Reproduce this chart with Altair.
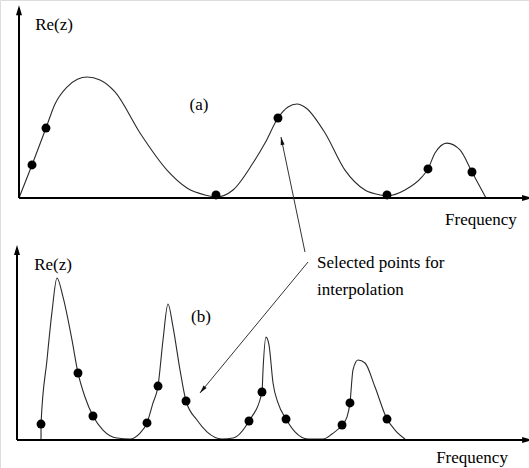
import altair as alt
import pandas as pd

# ---- panel (a): broad resonances -------------------------------------------
freq_a = [0.0, 2.56, 5.31, 7.09, 9.45, 11.5, 13.39, 15.94, 18.9, 23.82, 29.13,
          33.07, 36.61, 38.78, 42.13, 46.06, 48.43, 50.98, 52.95, 54.72, 56.5,
          60.24, 64.17, 68.11, 71.06, 72.44, 75.98, 79.33, 80.51, 81.89, 84.25,
          86.81, 89.17, 91.93]
re_a = [0.0, 0.174, 0.368, 0.495, 0.584, 0.625, 0.637, 0.621, 0.558, 0.342,
        0.147, 0.053, 0.016, 0.005, 0.042, 0.184, 0.289, 0.421, 0.479, 0.495,
        0.474, 0.342, 0.147, 0.042, 0.016, 0.011, 0.042, 0.111, 0.153, 0.237,
        0.289, 0.253, 0.137, 0.0]
sel_freq_a = [2.56, 5.31, 38.78, 50.98, 72.44, 80.51, 89.17]
sel_re_a = [0.174, 0.368, 0.016, 0.421, 0.016, 0.153, 0.137]

# ---- panel (b): sharp resonances -------------------------------------------
freq_b = [4.71, 4.71, 5.88, 6.86, 7.84, 9.02, 10.78, 11.96, 13.33, 14.9, 16.86,
          19.61, 22.16, 24.12, 25.49, 26.67, 27.65, 28.63, 29.61, 30.59, 31.96,
          33.14, 35.29, 37.25, 40.2, 42.35, 45.49, 48.04, 48.24, 48.82, 49.41,
          50.2, 51.18, 52.75, 54.51, 57.06, 60.0, 61.76, 63.73, 64.71, 65.29,
          65.88, 66.86, 68.24, 70.2, 72.55, 74.12, 76.08]
re_b = [0.0, 0.083, 0.417, 0.667, 0.844, 0.745, 0.521, 0.349, 0.224, 0.125,
        0.052, 0.01, 0.005, 0.036, 0.089, 0.193, 0.281, 0.521, 0.708, 0.589,
        0.365, 0.203, 0.104, 0.042, 0.005, 0.01, 0.099, 0.25, 0.365, 0.536,
        0.495, 0.297, 0.193, 0.109, 0.042, 0.005, 0.005, 0.031, 0.078, 0.12,
        0.193, 0.365, 0.417, 0.401, 0.276, 0.109, 0.052, 0.005]
sel_freq_b = [4.71, 11.96, 14.9, 25.49, 27.65, 33.14, 45.49, 48.04, 52.75,
              63.73, 65.29, 72.55]
sel_re_b = [0.083, 0.349, 0.125, 0.089, 0.281, 0.203, 0.099, 0.25, 0.109,
            0.078, 0.193, 0.109]

# ---- callout arrows (panel b units) ----------------------------------------
arrow_f = [56.47, 57.06]
arrow_re = [0.979, 0.927]
arrow_f2 = [51.76, 35.88]
arrow_re2 = [1.578, 0.245]
arrow_angle = [348, 219.5]

FONT = "Liberation Serif"
FS = 17
HEAD = "M0,0L-0.3,1L0.3,1Z"


def panel(xs, ys, freq, re, sel_f, sel_re, tag, label_pos):
    x = lambda f="f": alt.X(f"{f}:Q", scale=xs, axis=None)
    y = lambda f="re": alt.Y(f"{f}:Q", scale=ys, axis=None)

    curve = alt.Chart(pd.DataFrame({"f": freq, "re": re})).mark_line(
        interpolate="monotone", color="#2a2a2a", strokeWidth=1.1
    ).encode(x=x(), y=y(), order="i:Q").transform_window(i="row_number()")

    dots = alt.Chart(pd.DataFrame({"f": sel_f, "re": sel_re})).mark_circle(
        size=80, color="black", opacity=1
    ).encode(x=x(), y=y())

    h_axis = alt.Chart(pd.DataFrame({"f": [0], "f2": [100], "re": [0]})).mark_rule(
        color="black", strokeWidth=2
    ).encode(x=x(), x2="f2:Q", y=y())
    v_axis = alt.Chart(pd.DataFrame({"f": [0], "re": [0], "re2": [1.0]})).mark_rule(
        color="black", strokeWidth=2
    ).encode(x=x(), y=y(), y2="re2:Q")

    heads = alt.Chart(pd.DataFrame({"f": [0, 101], "re": [1.015, 0], "a": [0, 90]})).mark_point(
        shape=HEAD, filled=True, color="black", size=400, opacity=1
    ).encode(x=x(), y=y(), angle=alt.Angle("a:Q", scale=None))

    lp = label_pos
    labels = alt.Chart(pd.DataFrame({
        "f": [lp[0][0], lp[1][0], lp[2][0]],
        "re": [lp[0][1], lp[1][1], lp[2][1]],
        "t": ["Re(z)", tag, "Frequency"],
    })).mark_text(font=FONT, fontSize=FS, color="black", align="center", baseline="middle").encode(
        x=x(), y=y(), text="t:N"
    )
    return [curve, h_axis, v_axis, heads, dots, labels]


xa = alt.Scale(domain=[0, 100], range=[19, 527], nice=False)
ya = alt.Scale(domain=[0, 1], range=[198, 8], nice=False)
xb = alt.Scale(domain=[0, 100], range=[17, 527], nice=False)
yb = alt.Scale(domain=[0, 1], range=[440, 248], nice=False)

layers_a = panel(xa, ya, freq_a, re_a, sel_freq_a, sel_re_a, "(a)",
                 [(6.89, 0.911), (35.43, 0.489), (90.94, -0.116)])
layers_b = panel(xb, yb, freq_b, re_b, sel_freq_b, sel_re_b, "(b)",
                 [(7.06, 0.911), (36.08, 0.641), (89.22, -0.094)])

xbq = lambda f="f": alt.X(f"{f}:Q", scale=xb, axis=None)
ybq = lambda f="re": alt.Y(f"{f}:Q", scale=yb, axis=None)

arrow_df = pd.DataFrame({"f": arrow_f, "re": arrow_re, "f2": arrow_f2,
                         "re2": arrow_re2, "a": arrow_angle})
arrow_lines = alt.Chart(arrow_df).mark_rule(color="#333", strokeWidth=1).encode(
    x=xbq(), y=ybq(), x2="f2:Q", y2="re2:Q"
)
arrow_heads = alt.Chart(arrow_df).mark_point(
    shape="M0,0L-0.25,1L0.25,1Z", filled=True, color="#111", size=256, opacity=1
).encode(x=xbq("f2"), y=ybq("re2"), angle=alt.Angle("a:Q", scale=None))

callout = alt.Chart(pd.DataFrame({
    "f": [58.82, 58.82], "re": [0.922, 0.781],
    "t": ["Selected points for", "interpolation"],
})).mark_text(font=FONT, fontSize=FS, color="black", align="left", baseline="middle").encode(
    x=xbq(), y=ybq(), text="t:N"
)

chart = alt.layer(
    *layers_a, *layers_b, arrow_lines, arrow_heads, callout
).resolve_scale(x="independent", y="independent").properties(
    width=529, height=468, padding=0, autosize=alt.AutoSizeParams(type="none")
).configure_view(strokeWidth=0).configure(background="white")

chart.save("out.html", embed_options={"renderer": "svg", "actions": False})
